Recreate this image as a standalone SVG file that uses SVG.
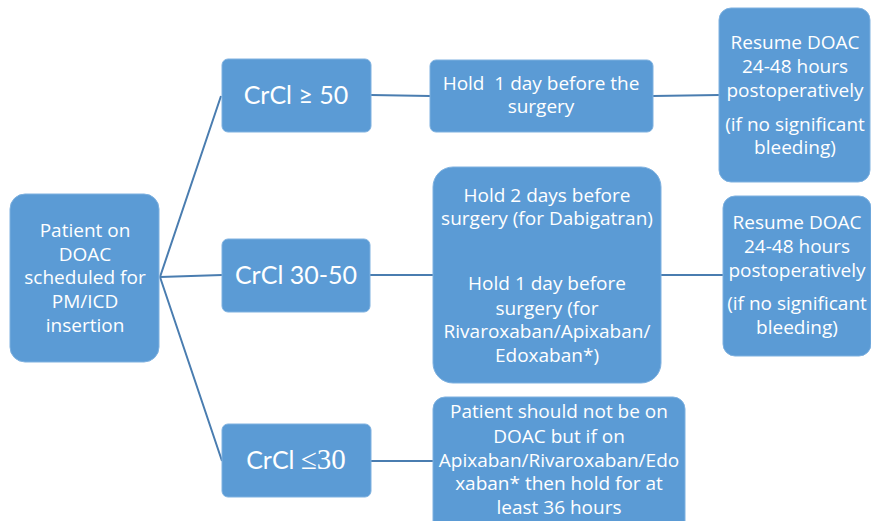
<svg xmlns="http://www.w3.org/2000/svg" width="871" height="521" viewBox="0 0 871 521">
<style>
.b{fill:#5B9BD5;stroke:#7EB1E0;stroke-width:1}
.t{font-family:"Open Sans",Lato,sans-serif;font-size:19px;fill:#fff;text-anchor:middle}
.c{font-family:Lato,"Open Sans",sans-serif;font-size:25px;fill:#fff;text-anchor:middle}
.s{font-family:"Liberation Serif",serif;font-size:29px}
.l{stroke:#4A7DB0;stroke-width:2;fill:none}
</style>
<rect width="871" height="521" fill="#fff"/>
<g id="connectors">
<path class="l" d="M160 277L221 96M160 277L222 275M160 277L222 461"/>
<path class="l" d="M371 95L430 96M653 96L719 95M370 275L433 275M661 275L723 275M371 461L433 461"/>
</g>
<g id="patient"><rect class="b" x="10" y="194" width="149" height="168" rx="15"/>
<text class="t"><tspan x="85" y="237">Patient on</tspan><tspan x="85" y="261">DOAC</tspan><tspan x="85" y="284">scheduled for</tspan><tspan x="85" y="308">PM/ICD</tspan><tspan x="85" y="332">insertion</tspan></text></g>
<g id="crcl50"><rect class="b" x="222" y="59" width="149" height="73" rx="6"/>
<text class="c" x="296" y="104">CrCl ≥ 50</text></g>
<g id="crcl3050"><rect class="b" x="222" y="239" width="148" height="73" rx="6"/>
<text class="c" x="296" y="284">CrCl 30-50</text></g>
<g id="crcl30"><rect class="b" x="222" y="424" width="149" height="73" rx="6"/>
<text class="c" x="296" y="469">CrCl <tspan class="s">≤30</tspan></text></g>
<g id="hold1"><rect class="b" x="430" y="60" width="223" height="72" rx="6"/>
<text class="t"><tspan x="541" y="90">Hold &#160;1 day before the</tspan><tspan x="541" y="113">surgery</tspan></text></g>
<g id="hold2"><rect class="b" x="433" y="167" width="228" height="216" rx="20"/>
<text class="t"><tspan x="547" y="202">Hold 2 days before</tspan><tspan x="547" y="225">surgery (for Dabigatran)</tspan><tspan x="547" y="290">Hold 1 day before</tspan><tspan x="547" y="315">surgery (for</tspan><tspan x="547" y="338">Rivaroxaban/Apixaban/</tspan><tspan x="547" y="362">Edoxaban*)</tspan></text></g>
<g id="hold36"><rect class="b" x="433" y="397" width="252" height="140" rx="12"/>
<text class="t"><tspan x="559" y="418">Patient should not be on</tspan><tspan x="559" y="443">DOAC but if on</tspan><tspan x="559" y="467">Apixaban/Rivaroxaban/Edo</tspan><tspan x="559" y="490">xaban* then hold for at</tspan><tspan x="559" y="514">least 36 hours</tspan></text></g>
<g id="resume1"><rect class="b" x="719" y="8" width="151" height="174" rx="12"/>
<text class="t"><tspan x="795" y="49">Resume DOAC</tspan><tspan x="795" y="73">24-48 hours</tspan><tspan x="795" y="97">postoperatively</tspan><tspan x="795" y="131">(if no significant</tspan><tspan x="795" y="154">bleeding)</tspan></text></g>
<g id="resume2"><rect class="b" x="723" y="196" width="148" height="160" rx="12"/>
<text class="t"><tspan x="797" y="229">Resume DOAC</tspan><tspan x="797" y="253">24-48 hours</tspan><tspan x="797" y="277">postoperatively</tspan><tspan x="797" y="310">(if no significant</tspan><tspan x="797" y="334">bleeding)</tspan></text></g>
</svg>
